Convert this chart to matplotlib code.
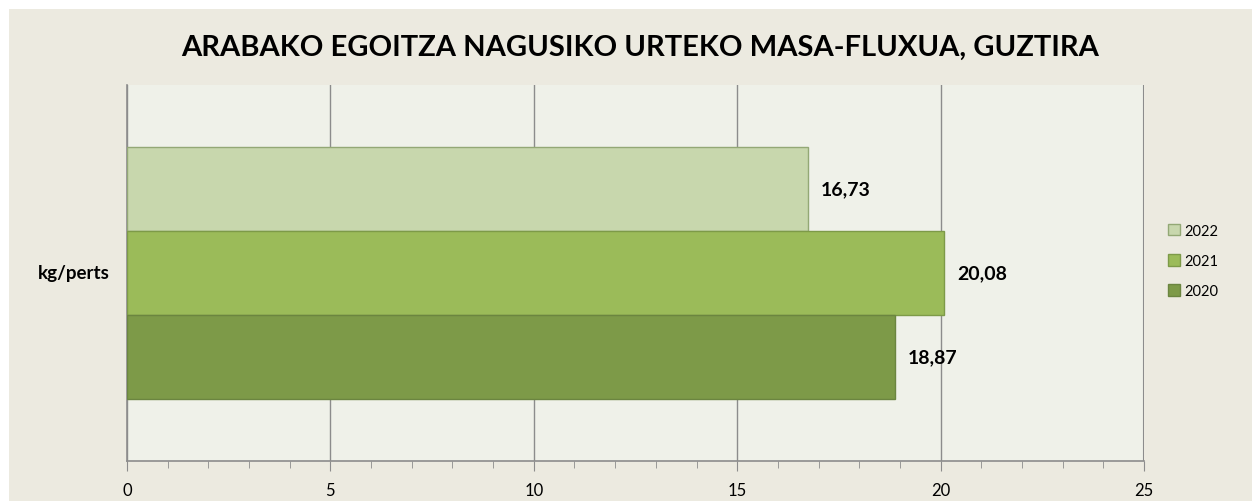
import matplotlib.pyplot as plt
from matplotlib.patches import Rectangle
from matplotlib.ticker import MultipleLocator

plt.rcParams['font.family'] = ['Lato', 'DejaVu Sans']

years = ['2022', '2021', '2020']
values = [16.73, 20.08, 18.87]
colors = ['#c8d7ad', '#9bbb59', '#7d9a48']
edges = ['#93a875', '#7d9a48', '#6b8540']
offsets = [1, 0, -1]
labels = ['16,73', '20,08', '18,87']

fig = plt.figure(figsize=(12.52, 5.02), dpi=100)
fig.patch.set_facecolor('white')
fig.add_artist(Rectangle((9 / 1252, 0), 1, 1 - 10 / 502, transform=fig.transFigure,
                         facecolor='#eceae0', edgecolor='none', zorder=0))

ax = fig.add_axes([127 / 1252, 40 / 502, (1144 - 127) / 1252, (462 - 86) / 502])
ax.set_facecolor('#eff1e9')

for y, v, c, e, lab in zip(offsets, values, colors, edges, labels):
    ax.barh(y, v, height=1, color=c, edgecolor=e, linewidth=1, zorder=3)
    ax.text(v + 0.32, y, lab, va='center', ha='left', fontsize=14,
            fontweight='bold', zorder=4)

ax.set_xlim(0, 25)
ax.set_ylim(-2.238, 2.238)
ax.xaxis.set_major_locator(MultipleLocator(5))
ax.xaxis.set_minor_locator(MultipleLocator(1))
ax.grid(axis='x', which='major', color='#8c8c8c', linewidth=1, zorder=1)
ax.set_axisbelow(True)
ax.tick_params(axis='x', which='both', direction='out', colors='#8c8c8c',
               labelcolor='black', labelsize=12, pad=8)
ax.tick_params(axis='x', which='major', length=7)
ax.tick_params(axis='x', which='minor', length=5)
ax.set_yticks([])
for s in ['top', 'right']:
    ax.spines[s].set_visible(False)
for s in ['left', 'bottom']:
    ax.spines[s].set_color('#8c8c8c')
    ax.spines[s].set_linewidth(1.2)
ax.axvline(25, color='#8c8c8c', linewidth=1.5, zorder=1)

fig.text(110 / 1252, 1 - 274 / 502, 'kg/perts', ha='right', va='center',
         fontsize=13.5, fontweight='bold')
fig.text(640 / 1252, 1 - 48 / 502, 'ARABAKO EGOITZA NAGUSIKO URTEKO MASA-FLUXUA, GUZTIRA',
         ha='center', va='center', fontsize=21, fontweight='bold')

handles = [Rectangle((0, 0), 1, 1, facecolor=c, edgecolor=e) for c, e in zip(colors, edges)]
fig.legend(handles, years, loc='center left', bbox_to_anchor=(1155 / 1252, 1 - 262 / 502),
           frameon=False, fontsize=10.5, handlelength=0.8, handleheight=0.8,
           handletextpad=0.3, labelspacing=1.1)

fig.savefig('out.png', dpi=100, facecolor=fig.get_facecolor())
